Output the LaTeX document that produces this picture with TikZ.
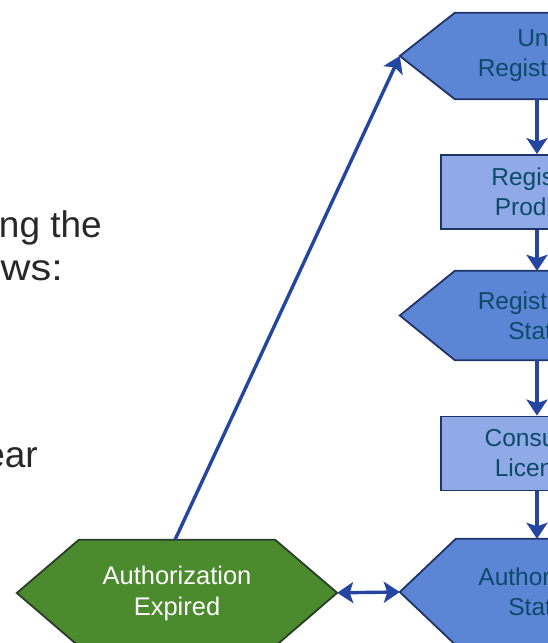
\documentclass[tikz,border=0pt]{standalone}
\usepackage{fontspec}
\setmainfont{Liberation Sans}
\usetikzlibrary{arrows.meta,backgrounds}
\definecolor{hexfill}{RGB}{92,133,214}
\definecolor{boxfill}{RGB}{143,170,230}
\definecolor{edgec}{RGB}{30,52,104}
\definecolor{arrowc}{RGB}{36,70,160}
\definecolor{greenfill}{RGB}{76,138,46}
\definecolor{greenedge}{RGB}{40,62,40}
\definecolor{tealtxt}{RGB}{12,74,106}
\definecolor{bodytxt}{RGB}{40,40,40}
\tikzset{flowtip/.tip={Stealth[length=16pt,width=21pt,inset=3.5pt]}}
\begin{document}
\begin{tikzpicture}[x=1pt,y=-1pt,
  body/.style={draw=none, inner sep=0pt, align=center, text=tealtxt,
    font=\fontsize{24.5}{30}\selectfont},
  boxnode/.style={body, draw=edgec, fill=boxfill, line width=1.8pt,
    minimum width=192pt, minimum height=74pt},
  hexpath/.style={draw=edgec, fill=hexfill, line width=1.8pt, line join=miter},
  greenpath/.style={draw=greenedge, fill=greenfill, line width=1.8pt, line join=miter},
  flow/.style={draw=arrowc, line width=3.4pt, -{flowtip}},
  bothflow/.style={draw=arrowc, line width=3.4pt, {flowtip}-{flowtip}},
  frag/.style={anchor=base east, inner sep=0pt, text=bodytxt,
    font=\fontsize{37}{43}\selectfont}]
\useasboundingbox (0,0) rectangle (548,643);
\clip (0,0) rectangle (548,643);

% text fragments on the left
\node[frag] (f1) at (102,237) {ng the};
\node[frag, xscale=1.12] (f2) at (63,280) {ws:};
\node[frag] (f3) at (38,467) {ear};

% nodes
\node[body, minimum width=164pt, minimum height=86pt] (un) at (537,56) {Un-\\Registered};
\node[boxnode] (rp) at (537,192) {Register\\Product};
\node[body, minimum width=164pt, minimum height=89pt] (rs) at (537,315.5) {Registered\\State};
\node[boxnode] (cl) at (537,453.5) {Consume\\License};
\node[body, minimum width=162pt, minimum height=106pt] (as) at (537,592) {Authorized\\State};
\node[body, text=white, font=\fontsize{25.5}{31}\selectfont,
  minimum width=196pt, minimum height=106pt] (ae) at (177,593) {Authorization\\Expired};

\begin{scope}[on background layer]
  \path[hexpath] (un.west) ++(-55,0) coordinate (untip) -- (un.north west) -- (un.north east)
    -- ++(55,43) -- (un.south east) -- (un.south west) -- cycle;
  \path[hexpath] (rs.west) ++(-55,0) coordinate (rstip) -- (rs.north west) -- (rs.north east)
    -- ++(55,44.5) -- (rs.south east) -- (rs.south west) -- cycle;
  \path[hexpath] (as.west) ++(-56,0) coordinate (astip) -- (as.north west) -- (as.north east)
    -- ++(56,53) -- (as.south east) -- (as.south west) -- cycle;
  \path[greenpath] (ae.west) ++(-62,0) coordinate (aetipw) -- (ae.north west)
    -- (ae.north east) -- ++(62,53) coordinate (aetipe)
    -- (ae.south east) -- (ae.south west) -- cycle;
\end{scope}

% connectors
\draw[flow] (un.south) -- (rp.north);
\draw[flow] (rp.south) -- (rs.north);
\draw[flow] (rs.south) -- (cl.north);
\draw[flow] (cl.south) -- (as.north);
\draw[bothflow] (aetipe) -- (astip);
\draw[flow] ([xshift=-2pt]ae.north) -- (untip);
\end{tikzpicture}
\end{document}
